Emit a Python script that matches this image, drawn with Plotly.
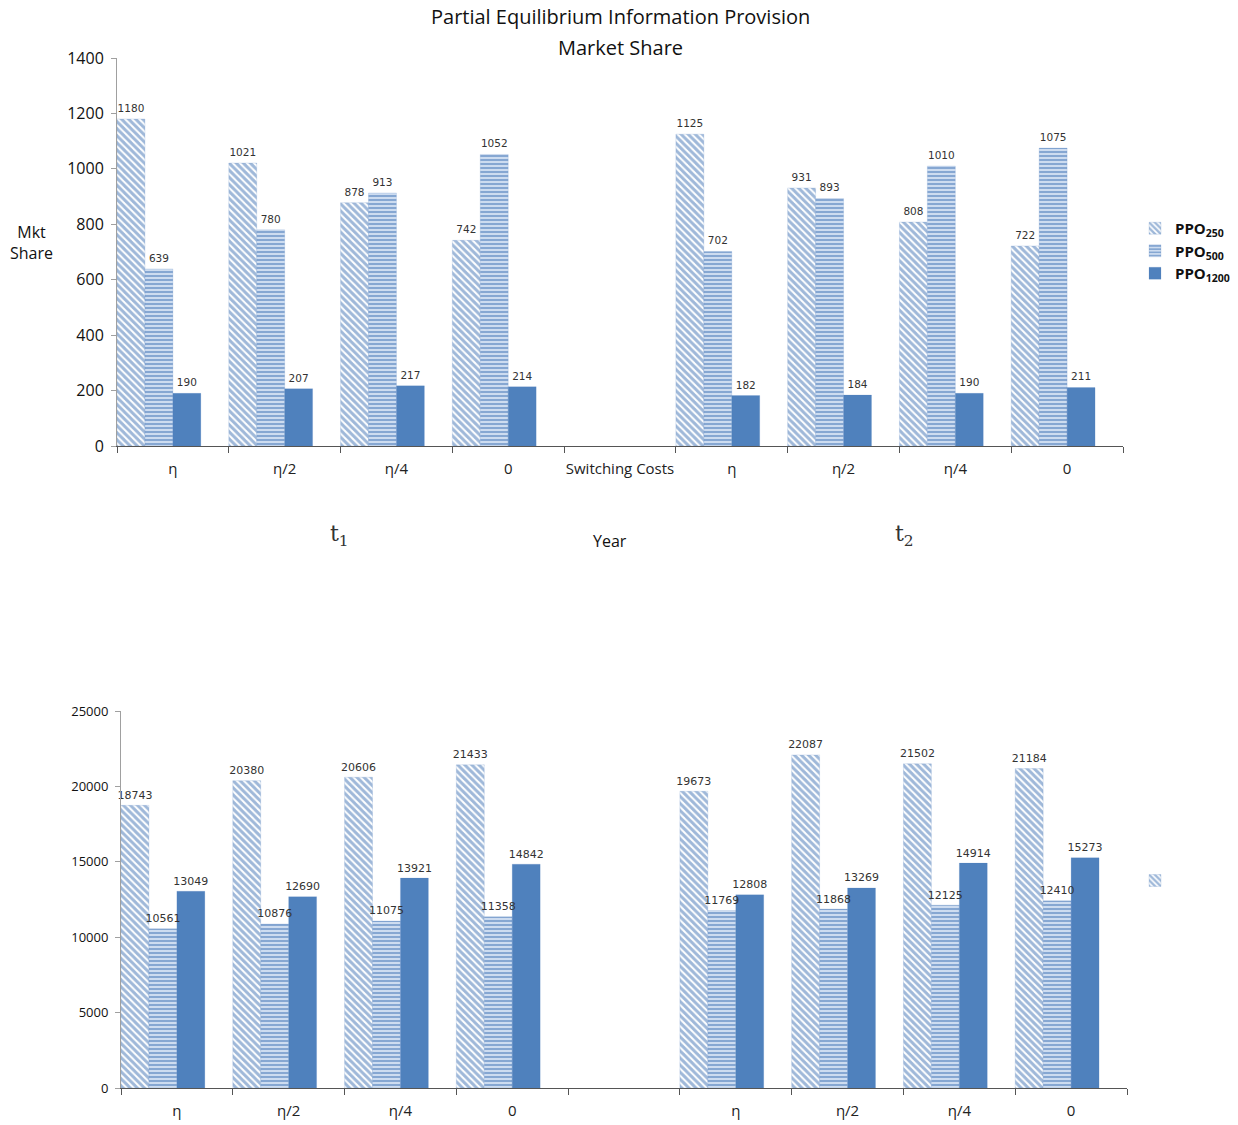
import plotly.graph_objects as go

# Category layout: four switching-cost levels per year, with a spacer column between years
top_ticks = ["η", "η/2", "η/4", "0", "Switching Costs", "η", "η/2", "η/4", "0"]
bottom_ticks = ["η", "η/2", "η/4", "0", "", "η", "η/2", "η/4", "0"]
positions = list(range(9))

# Top panel: market share (t1 then t2, None in the spacer column)
top_ppo250 = [1180, 1021, 878, 742, None, 1125, 931, 808, 722]
top_ppo500 = [639, 780, 913, 1052, None, 702, 893, 1010, 1075]
top_ppo1200 = [190, 207, 217, 214, None, 182, 184, 190, 211]

# Bottom panel
bot_ppo250 = [18743, 20380, 20606, 21433, None, 19673, 22087, 21502, 21184]
bot_ppo500 = [10561, 10876, 11075, 11358, None, 11769, 11868, 12125, 12410]
bot_ppo1200 = [13049, 12690, 13921, 14842, None, 12808, 13269, 14914, 15273]

series_names = ["<b>PPO</b><sub><b>250</b></sub>", "<b>PPO</b><sub><b>500</b></sub>",
                "<b>PPO</b><sub><b>1200</b></sub>"]

BLUE = "#3f72b3"
styles = [
    dict(color="white", pattern=dict(shape="\\", fgcolor=BLUE, bgcolor="white",
                                     size=5, solidity=0.6, fillmode="overlay")),
    dict(color="#c3d5ec", pattern=dict(shape="-", fgcolor=BLUE, bgcolor="#cddcf0",
                                       size=4, solidity=0.5, fillmode="overlay")),
    dict(color="#4f81bd"),
]
BAR_W = 0.25
offsets = [-0.5, -0.25, 0.0]

fig = go.Figure()

def add_panel(series, xa, ya, fontsize, label_pad, legend_flags, legend_ref):
    for i, vals in enumerate(series):
        fig.add_trace(go.Bar(
            x=positions, y=vals, name=series_names[i],
            width=BAR_W, offset=offsets[i],
            marker=dict(line=dict(width=0.5, color="rgba(79,129,189,0.35)"), **styles[i]),
            xaxis=xa, yaxis=ya, showlegend=legend_flags[i], legend=legend_ref,
        ))
    # value labels drawn a little above every bar, layered over all bars
    for i, vals in enumerate(series):
        pts = [(p, v) for p, v in zip(positions, vals) if v is not None]
        fig.add_trace(go.Scatter(
            x=[p + offsets[i] + BAR_W / 2 for p, _ in pts],
            y=[v + label_pad for _, v in pts],
            mode="text", text=[str(v) for _, v in pts],
            textposition="top center", cliponaxis=False, hoverinfo="skip",
            textfont=dict(family="DejaVu Sans", size=fontsize, color="#333333"),
            xaxis=xa, yaxis=ya, showlegend=False,
        ))

add_panel([top_ppo250, top_ppo500, top_ppo1200], "x", "y", 10.5, 16,
          [True, True, True], "legend")
add_panel([bot_ppo250, bot_ppo500, bot_ppo1200], "x2", "y2", 11, 250,
          [True, False, False], "legend2")
fig.data[6].name = " "

W, H = 1238, 1125
def px_x(p):
    return p / W
def px_y(p):
    return 1 - p / H

axis_font = dict(family="Open Sans", size=15, color="#222222")
common_x = dict(
    range=[-0.5, 8.5], tickmode="array", tickvals=positions,
    showline=True, linecolor="#555555", linewidth=1.2, ticks="",
    showgrid=False, zeroline=False, tickfont=axis_font, ticklabelstandoff=9,
    automargin=False,
    minor=dict(tickmode="array", tickvals=[i - 0.5 for i in range(10)],
               ticks="outside", ticklen=6, tickcolor="#555555"),
)
common_y = dict(showline=True, linecolor="#a0a0a0", linewidth=1, ticks="outside",
                ticklen=5, tickcolor="#a0a0a0", showgrid=False, zeroline=False,
                automargin=False, tickformat="d", ticklabelstandoff=4)

fig.update_layout(
    width=W, height=H, margin=dict(l=0, r=0, t=0, b=0, autoexpand=False),
    plot_bgcolor="white", paper_bgcolor="white",
    barmode="overlay",
    xaxis=dict(domain=[px_x(117), px_x(1123)], ticktext=top_ticks, anchor="y", **common_x),
    yaxis=dict(domain=[px_y(446), px_y(58)], range=[0, 1400], dtick=200, anchor="x",
               tickfont=dict(family="Open Sans", size=16, color="#111111"), **common_y),
    xaxis2=dict(domain=[px_x(121), px_x(1127)], ticktext=bottom_ticks, anchor="y2", **common_x),
    yaxis2=dict(domain=[px_y(1088), px_y(711)], range=[0, 25000], dtick=5000, anchor="x2",
                tickfont=dict(family="Open Sans", size=13, color="#111111"), **common_y),
    legend=dict(x=px_x(1135), y=px_y(212), xanchor="left", yanchor="top",
                font=dict(family="Open Sans", size=15, color="#111111"),
                bgcolor="rgba(0,0,0,0)", itemwidth=30, tracegroupgap=2),
    legend2=dict(x=px_x(1135), y=px_y(866), xanchor="left", yanchor="top",
                 font=dict(family="Open Sans", size=12, color="#111111"),
                 bgcolor="rgba(0,0,0,0)", itemwidth=30),
)

annotations = [
    dict(text="Partial Equilibrium Information Provision", x=px_x(621), y=px_y(17),
         font=dict(family="Open Sans", size=20, color="#111111")),
    dict(text="Market Share", x=px_x(621), y=px_y(47),
         font=dict(family="Open Sans", size=20, color="#111111")),
    dict(text="Mkt<br>Share", x=px_x(31), y=px_y(243),
         font=dict(family="Open Sans", size=16, color="#111111")),
    dict(text="Year", x=px_x(610), y=px_y(541),
         font=dict(family="Open Sans", size=16, color="#111111")),
    dict(text="t<sub>1</sub>", x=px_x(339), y=px_y(535),
         font=dict(family="DejaVu Serif", size=22, color="#333333")),
    dict(text="t<sub>2</sub>", x=px_x(904), y=px_y(535),
         font=dict(family="DejaVu Serif", size=22, color="#333333")),
]
for a in annotations:
    fig.add_annotation(xref="paper", yref="paper", showarrow=False,
                       xanchor="center", yanchor="middle", **a)

fig.write_html("out.html")
